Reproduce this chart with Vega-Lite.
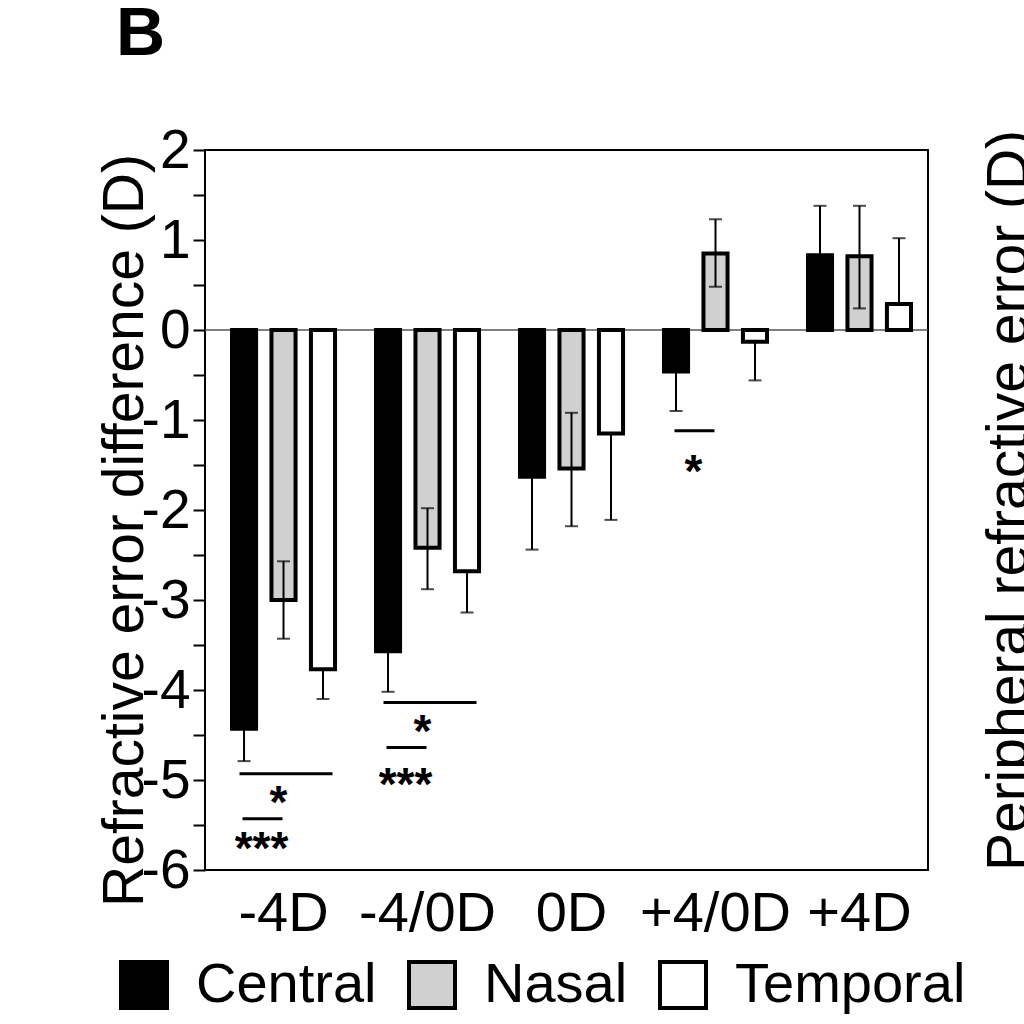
{
  "$schema": "https://vega.github.io/schema/vega-lite/v6.json",
  "autosize": {"type": "none"},
  "width": 723,
  "height": 720,
  "padding": {"left": 205, "top": 150, "right": 96, "bottom": 154},
  "background": "white",
  "config": {
    "font": "Liberation Sans",
    "view": {"stroke": "black", "strokeWidth": 2},
    "axis": {"labelColor": "black", "titleColor": "black", "labelFont": "Liberation Sans", "titleFont": "Liberation Sans"},
    "legend": {"labelFont": "Liberation Sans", "labelColor": "black"}
  },
  "title": {"text": "B", "anchor": "start", "frame": "group", "dx": -89, "offset": 0, "baseline": "alphabetic", "fontSize": 68, "fontWeight": "bold", "font": "Liberation Sans", "color": "black"},
  "datasets": {
    "bars": [
      {"group": "-4D", "region": "Central", "mean": -4.43, "lo": -4.79, "hi": -4.43},
      {"group": "-4D", "region": "Nasal", "mean": -3.0, "lo": -3.43, "hi": -2.57},
      {"group": "-4D", "region": "Temporal", "mean": -3.77, "lo": -4.1, "hi": -3.77},
      {"group": "-4/0D", "region": "Central", "mean": -3.57, "lo": -4.02, "hi": -3.57},
      {"group": "-4/0D", "region": "Nasal", "mean": -2.42, "lo": -2.88, "hi": -1.98},
      {"group": "-4/0D", "region": "Temporal", "mean": -2.68, "lo": -3.14, "hi": -2.68},
      {"group": "0D", "region": "Central", "mean": -1.63, "lo": -2.44, "hi": -1.63},
      {"group": "0D", "region": "Nasal", "mean": -1.54, "lo": -2.18, "hi": -0.92},
      {"group": "0D", "region": "Temporal", "mean": -1.15, "lo": -2.11, "hi": -1.15},
      {"group": "+4/0D", "region": "Central", "mean": -0.46, "lo": -0.9, "hi": -0.46},
      {"group": "+4/0D", "region": "Nasal", "mean": 0.85, "lo": 0.48, "hi": 1.23},
      {"group": "+4/0D", "region": "Temporal", "mean": -0.13, "lo": -0.56, "hi": -0.13},
      {"group": "+4D", "region": "Central", "mean": 0.83, "lo": 0.83, "hi": 1.38},
      {"group": "+4D", "region": "Nasal", "mean": 0.82, "lo": 0.24, "hi": 1.38},
      {"group": "+4D", "region": "Temporal", "mean": 0.29, "lo": 0.29, "hi": 1.02}
    ],
    "sig": [
      {"group": "-4D", "kind": "long", "line": -4.93, "star": -5.14, "label": "*"},
      {"group": "-4D", "kind": "short", "line": -5.43, "star": -5.66, "label": "***"},
      {"group": "-4/0D", "kind": "long", "line": -4.14, "star": -4.36, "label": "*"},
      {"group": "-4/0D", "kind": "short", "line": -4.64, "star": -4.94, "label": "***"},
      {"group": "+4/0D", "kind": "short", "line": -1.12, "star": -1.47, "label": "*"}
    ]
  },
  "resolve": {"axis": {"y": "independent"}},
  "layer": [
    {
      "data": {"values": [{}]},
      "mark": {"type": "rule", "color": "#555555", "strokeWidth": 1.5},
      "encoding": {
        "y": {"datum": 0, "type": "quantitative", "scale": {"domain": [-6, 2], "nice": false},
          "axis": {"orient": "right", "labels": false, "ticks": false, "domain": false, "grid": false,
            "title": "Peripheral refractive error (D)", "titleFontSize": 57, "titleFontWeight": "normal",
            "titleAngle": 270, "titleBaseline": "alphabetic", "titleX": 98, "titleY": 350}}
      }
    },
    {
      "data": {"name": "bars"},
      "mark": {"type": "bar", "stroke": "black", "strokeWidth": 4},
      "encoding": {
        "x": {"field": "group", "type": "nominal", "sort": ["-4D", "-4/0D", "0D", "+4/0D", "+4D"],
          "scale": {"paddingInner": 0.257, "paddingOuter": 0.139, "align": 0.625},
          "axis": {"title": null, "ticks": false, "tickSize": 0, "domain": false, "labelAngle": 0, "labelFontSize": 56, "labelPadding": 16, "grid": false}},
        "xOffset": {"field": "region", "type": "nominal", "sort": ["Central", "Nasal", "Temporal"],
          "scale": {"paddingInner": 0.39, "paddingOuter": 0.05}},
        "y": {"field": "mean", "type": "quantitative", "scale": {"domain": [-6, 2], "nice": false},
          "axis": {"orient": "left", "values": [-6, -5.5, -5, -4.5, -4, -3.5, -3, -2.5, -2, -1.5, -1, -0.5, 0, 0.5, 1, 1.5, 2],
            "labelExpr": "datum.value % 1 === 0 ? toString(datum.value) : ''",
            "labelFontSize": 55, "labelPadding": 3, "tickSize": 12, "tickWidth": 2, "tickColor": "black",
            "domain": false, "grid": false,
            "title": "Refractive error difference (D)", "titleFontSize": 57, "titleFontWeight": "normal",
            "titleAngle": 270, "titleBaseline": "alphabetic", "titleX": -63, "titleY": 380}},
        "fill": {"field": "region", "type": "nominal",
          "scale": {"domain": ["Central", "Nasal", "Temporal"], "range": ["#000000", "#d0d0d0", "#ffffff"]},
          "legend": {"title": null, "orient": "none", "legendX": -89, "legendY": 807, "direction": "horizontal",
            "symbolType": "square", "symbolSize": 2116, "symbolStrokeColor": "black", "symbolStrokeWidth": 4,
            "labelFontSize": 56, "labelOffset": 24, "labelLimit": 500, "columnPadding": 24, "padding": 0}}
      }
    },
    {
      "data": {"name": "bars"},
      "mark": {"type": "rule", "color": "black", "strokeWidth": 2},
      "encoding": {
        "x": {"field": "group", "type": "nominal", "sort": ["-4D", "-4/0D", "0D", "+4/0D", "+4D"]},
        "xOffset": {"field": "region", "type": "nominal", "sort": ["Central", "Nasal", "Temporal"]},
        "y": {"field": "lo", "type": "quantitative", "axis": null},
        "y2": {"field": "hi"}
      }
    },
    {
      "data": {"name": "bars"},
      "mark": {"type": "tick", "orient": "horizontal", "color": "black", "size": 13, "thickness": 2},
      "encoding": {
        "x": {"field": "group", "type": "nominal", "sort": ["-4D", "-4/0D", "0D", "+4/0D", "+4D"]},
        "xOffset": {"field": "region", "type": "nominal", "sort": ["Central", "Nasal", "Temporal"]},
        "y": {"field": "lo", "type": "quantitative", "axis": null}
      }
    },
    {
      "data": {"name": "bars"},
      "mark": {"type": "tick", "orient": "horizontal", "color": "black", "size": 13, "thickness": 2},
      "encoding": {
        "x": {"field": "group", "type": "nominal", "sort": ["-4D", "-4/0D", "0D", "+4/0D", "+4D"]},
        "xOffset": {"field": "region", "type": "nominal", "sort": ["Central", "Nasal", "Temporal"]},
        "y": {"field": "hi", "type": "quantitative", "axis": null}
      }
    },
    {
      "data": {"name": "sig"},
      "transform": [{"filter": "datum.kind === 'long'"}],
      "mark": {"type": "rule", "color": "black", "strokeWidth": 3, "xOffset": -44, "x2Offset": 49},
      "encoding": {
        "x": {"field": "group", "type": "nominal", "sort": ["-4D", "-4/0D", "0D", "+4/0D", "+4D"]},
        "x2": {"field": "group"},
        "y": {"field": "line", "type": "quantitative", "axis": null}
      }
    },
    {
      "data": {"name": "sig"},
      "transform": [{"filter": "datum.kind === 'short'"}],
      "mark": {"type": "rule", "color": "black", "strokeWidth": 3, "xOffset": -41, "x2Offset": -1},
      "encoding": {
        "x": {"field": "group", "type": "nominal", "sort": ["-4D", "-4/0D", "0D", "+4/0D", "+4D"]},
        "x2": {"field": "group"},
        "y": {"field": "line", "type": "quantitative", "axis": null}
      }
    },
    {
      "data": {"name": "sig"},
      "transform": [{"filter": "datum.kind === 'long'"}],
      "mark": {"type": "text", "fontSize": 46, "fontWeight": "bold", "color": "black", "align": "center", "baseline": "alphabetic", "dx": -5, "dy": 25},
      "encoding": {
        "x": {"field": "group", "type": "nominal", "sort": ["-4D", "-4/0D", "0D", "+4/0D", "+4D"]},
        "y": {"field": "star", "type": "quantitative", "axis": null},
        "text": {"field": "label"}
      }
    },
    {
      "data": {"name": "sig"},
      "transform": [{"filter": "datum.kind === 'short'"}],
      "mark": {"type": "text", "fontSize": 46, "fontWeight": "bold", "color": "black", "align": "center", "baseline": "alphabetic", "dx": -22, "dy": 25},
      "encoding": {
        "x": {"field": "group", "type": "nominal", "sort": ["-4D", "-4/0D", "0D", "+4/0D", "+4D"]},
        "y": {"field": "star", "type": "quantitative", "axis": null},
        "text": {"field": "label"}
      }
    }
  ]
}
